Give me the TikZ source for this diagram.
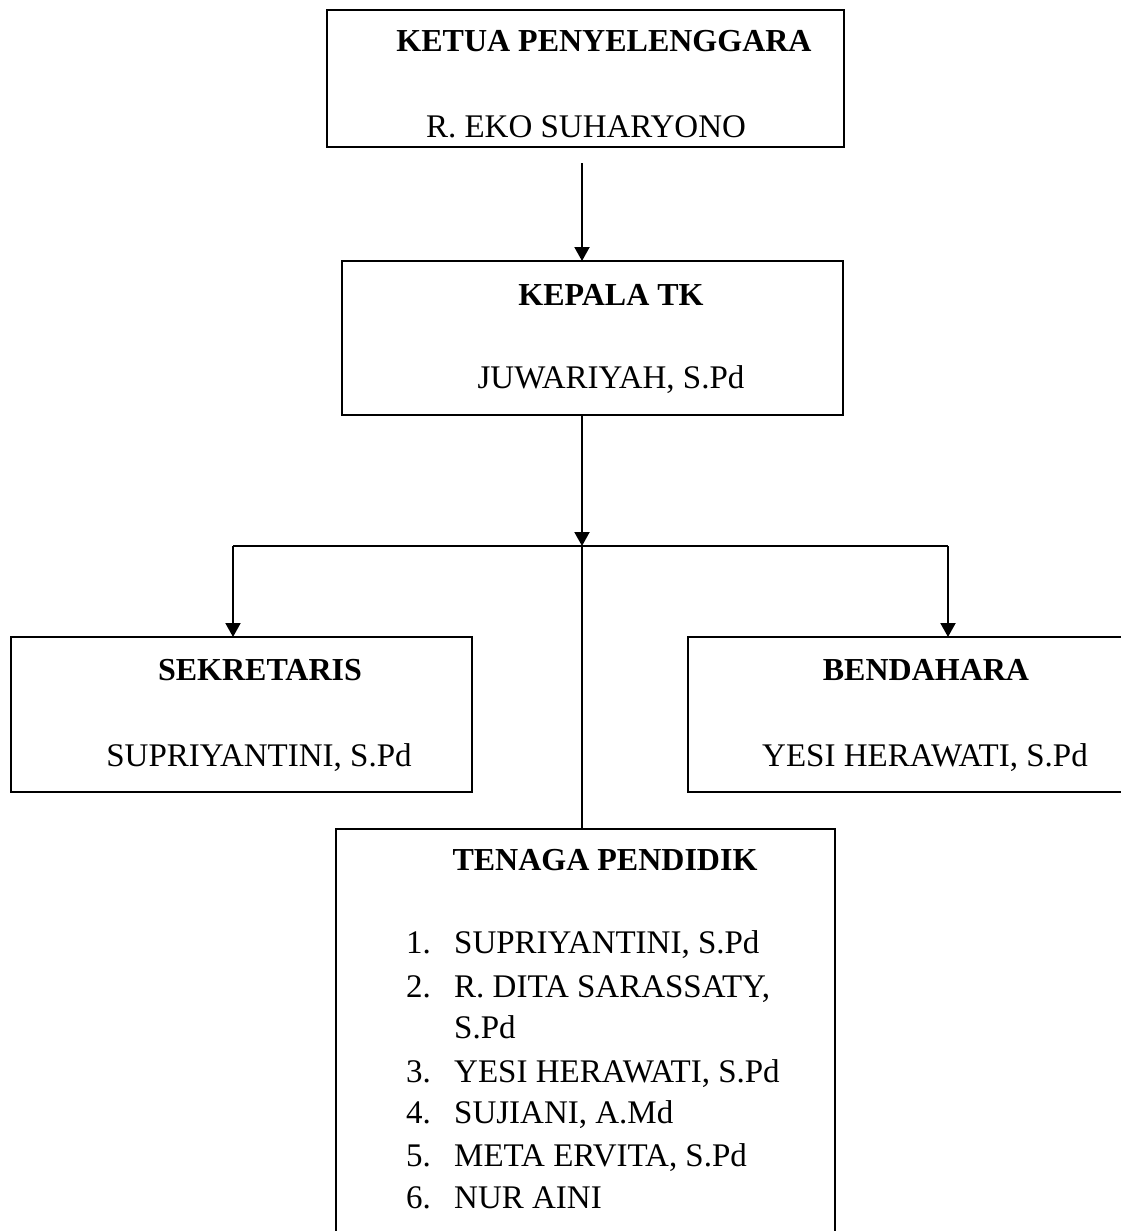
\documentclass[tikz,border=0pt]{standalone}
\usepackage{fontspec}
\setmainfont{Liberation Serif}
\usetikzlibrary{arrows.meta}
\begin{document}
\begin{tikzpicture}[x=1pt,y=-1pt,
  box/.style={draw=black,line width=2.6pt,fill=none,inner sep=0pt,outer sep=0pt,rectangle},
  conn/.style={line width=2pt,draw=black},
  thin/.style={line width=1.3pt,draw=black},
  arr/.style={conn,-{Triangle[width=15pt,length=14pt]}},
  ttl/.style={anchor=base,inner sep=0pt,font=\fontsize{32}{38}\selectfont\bfseries},
  nm/.style={anchor=base,inner sep=0pt,font=\fontsize{33}{40}\selectfont},
  li/.style={anchor=base west,inner sep=0pt,font=\fontsize{33}{40}\selectfont}]
\useasboundingbox (0,0) rectangle (1121,1231);
\clip (0,0) rectangle (1121,1231);
\fill[white] (0,0) rectangle (1121,1231);
% boxes
\node[box,minimum width=517pt,minimum height=137pt] (ketua) at (585.5,78.5) {};
\node[box,minimum width=501pt,minimum height=154pt] (kepala) at (592.5,338) {};
\node[box,minimum width=461pt,minimum height=155pt] (sekr) at (241.5,714.5) {};
\node[box,minimum width=450pt,minimum height=155pt] (bend) at (913,714.5) {};
\node[box,minimum width=499pt,minimum height=440pt] (tenaga) at (585.5,1049) {};
% texts
\node[ttl] (t1) at (604,52) {KETUA PENYELENGGARA};
\node[nm] (n1) at (586,137) {R. EKO SUHARYONO};
\node[ttl] (t2) at (611,305) {KEPALA TK};
\node[nm] (n2) at (611,388) {JUWARIYAH, S.Pd};
\node[ttl] (t3) at (260,680) {SEKRETARIS};
\node[nm] (n3) at (259,766) {SUPRIYANTINI, S.Pd};
\node[ttl] (t4) at (926,680) {BENDAHARA};
\node[nm] (n4) at (925,766) {YESI HERAWATI, S.Pd};
\node[ttl] (t5) at (605,870) {TENAGA PENDIDIK};
\node[li] (l1n) at (406,953) {1.};
\node[li] (l1) at (454,953) {SUPRIYANTINI, S.Pd};
\node[li] (l2n) at (406,997) {2.};
\node[li] (l2) at (454,997) {R. DITA SARASSATY,};
\node[li] (l2b) at (454,1038) {S.Pd};
\node[li] (l3n) at (406,1082) {3.};
\node[li] (l3) at (454,1082) {YESI HERAWATI, S.Pd};
\node[li] (l4n) at (406,1123) {4.};
\node[li] (l4) at (454,1123) {SUJIANI, A.Md};
\node[li] (l5n) at (406,1166) {5.};
\node[li] (l5) at (454,1166) {META ERVITA, S.Pd};
\node[li] (l6n) at (406,1208) {6.};
\node[li] (l6) at (454,1208) {NUR AINI};
% connectors
\coordinate (a0) at (582,163);
\coordinate (a1) at (582,415);
\coordinate (j) at (582,546);
\coordinate (jl) at (233,546);
\coordinate (jr) at (948,546);
\draw[arr] (a0) -- (a0 |- kepala.north);
\draw[arr] (a1) -- (j);
\draw[thin] (jl) -- (jr);
\draw[arr] (jl) -- (jl |- sekr.north);
\draw[arr] (jr) -- (jr |- bend.north);
\draw[conn] (j) -- (j |- tenaga.north);
\end{tikzpicture}
\end{document}
